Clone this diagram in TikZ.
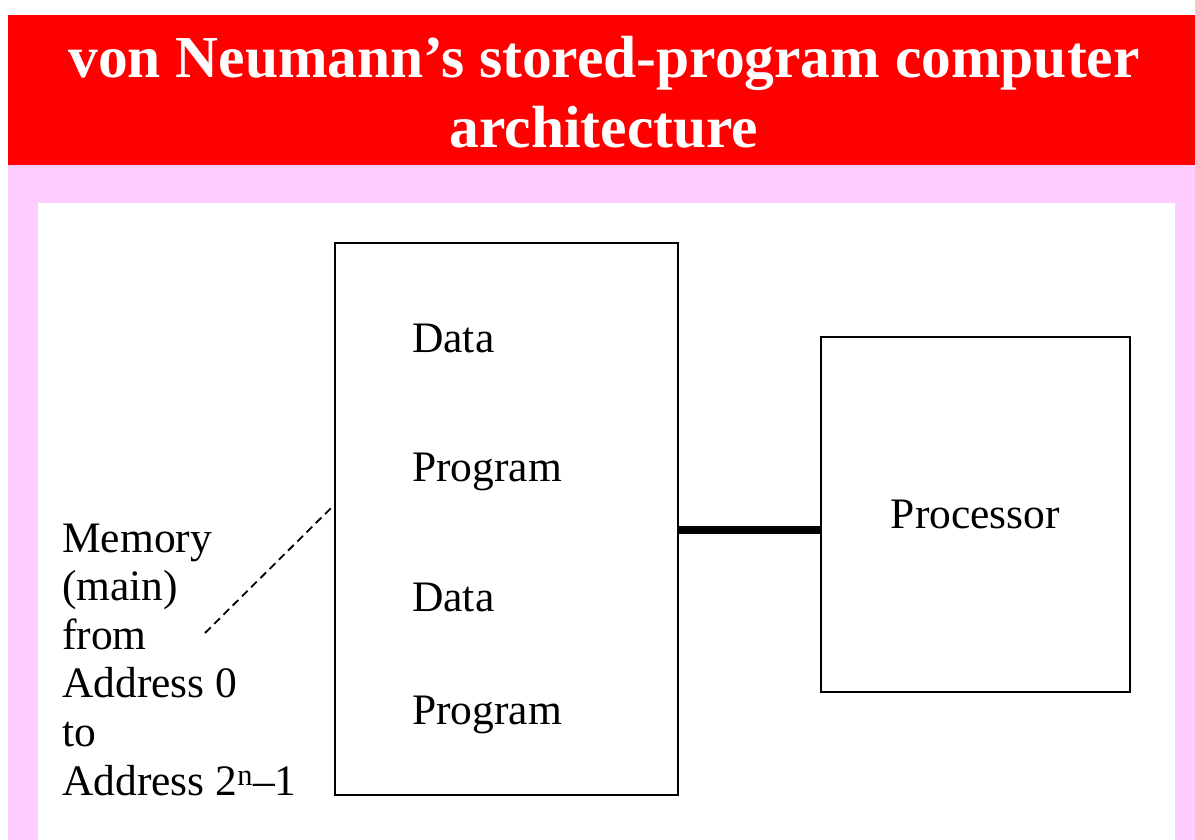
\documentclass[tikz,border=0pt]{standalone}
\usepackage{fontspec}
\setmainfont{Liberation Serif}
\definecolor{titlered}{HTML}{FF0000}
\definecolor{slidepink}{HTML}{FFCCFF}

\begin{document}
\begin{tikzpicture}[x=1pt, y=-1pt,
    box/.style={draw=black, line width=1.8pt, inner sep=0pt},
    body/.style={font=\fontsize{43.5}{49}\selectfont, inner sep=0pt}]

    % ==========================================
    % BACKGROUND: slide, title bar, white panel
    % ==========================================
    \fill[white] (0,0) rectangle (1195,840);
    \fill[slidepink] (8,15) rectangle (1195,840);
    \fill[titlered] (8,15) rectangle (1195,165);
    \fill[white] (38,203) rectangle (1175,840);

    % Title
    \node[text=white, font=\fontsize{59.5}{70}\selectfont\bfseries, align=center,
          inner sep=0pt] (title) at (604,92)
        {von Neumann’s stored-program computer\\architecture};

    % ==========================================
    % MEMORY: tall box with its contents
    % ==========================================
    \node[box, minimum width=343pt, minimum height=552pt] (mem) at (506.5,519) {};

    \node[body, anchor=base west] (data1) at (412,352) {Data};
    \node[body, anchor=base west] (prog1) at (412,481) {Program};
    \node[body, anchor=base west] (data2) at (412,611) {Data};
    \node[body, anchor=base west] (prog2) at (412,724) {Program};

    % ==========================================
    % PROCESSOR
    % ==========================================
    \node[box, body, draw, minimum width=309pt, minimum height=355pt] (proc)
        at (975.5,514.5) {Processor};

    % Bus between memory and processor
    \coordinate (bus) at (750,530);
    \draw[line width=8pt] (mem.east |- bus) -- (proc.west |- bus);

    % ==========================================
    % MEMORY LABEL with dashed pointer
    % ==========================================
    \foreach \txt [count=\i] in {Memory, (main), from, Address 0, to,
                                 Address 2\textsuperscript{n}–1}
        \node[body, anchor=base west] (lbl\i) at (62,{552+48.6*(\i-1)}) {\txt};

    \coordinate (tip) at (205,633);
    \draw[line width=1.8pt, dash pattern=on 8pt off 5pt]
        (tip) -- ([yshift=14pt]mem.west);

\end{tikzpicture}
\end{document}
